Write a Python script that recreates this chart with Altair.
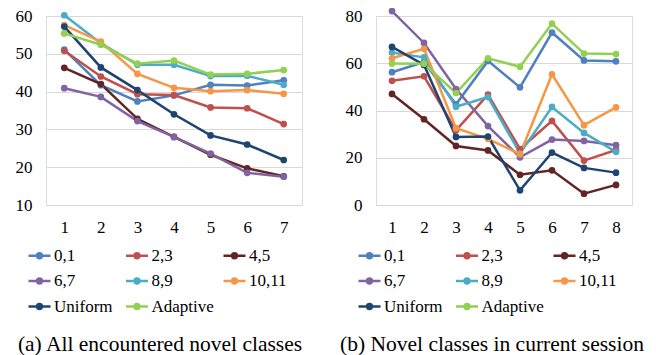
import altair as alt
import pandas as pd

series_names = ["0,1", "2,3", "4,5", "6,7", "8,9", "10,11", "Uniform", "Adaptive"]
series_colors = ["#4F81BD", "#C0504D", "#632523", "#8064A2", "#4BACC6", "#F79646", "#1F4471", "#92D050"]

sessions_a = [1, 2, 3, 4, 5, 6, 7]
a_01 = [51.1, 41.7, 37.4, 39.0, 41.8, 41.6, 43.0]
a_23 = [50.8, 44.0, 39.3, 39.1, 35.8, 35.6, 31.4]
a_45 = [46.3, 42.0, 32.8, 28.0, 23.3, 19.7, 17.6]
a_67 = [40.9, 38.6, 32.2, 28.0, 23.6, 18.5, 17.5]
a_89 = [60.2, 52.8, 47.1, 47.1, 44.1, 44.2, 41.8]
a_1011 = [57.6, 53.2, 44.7, 41.0, 40.1, 40.4, 39.4]
a_uniform = [57.2, 46.4, 40.4, 34.0, 28.4, 26.0, 21.9]
a_adaptive = [55.4, 52.4, 47.4, 48.2, 44.5, 44.7, 45.7]

sessions_b = [1, 2, 3, 4, 5, 6, 7, 8]
b_01 = [56.2, 60.5, 42.6, 61.0, 49.8, 73.0, 61.2, 60.8]
b_23 = [52.6, 54.5, 31.6, 46.7, 23.7, 35.6, 18.8, 23.3]
b_45 = [47.0, 36.3, 25.0, 23.1, 12.8, 14.7, 4.8, 8.5]
b_67 = [82.1, 68.6, 49.1, 33.4, 20.2, 27.7, 27.1, 25.3]
b_89 = [64.5, 62.5, 41.6, 45.7, 21.8, 41.5, 30.5, 22.5]
b_1011 = [62.1, 66.1, 32.5, 28.0, 21.5, 55.3, 33.8, 41.3]
b_uniform = [66.9, 59.3, 28.8, 29.0, 6.2, 22.2, 15.7, 13.7]
b_adaptive = [59.9, 59.8, 47.4, 62.1, 58.5, 76.8, 64.1, 63.9]

y_ticks_a = [10, 20, 30, 40, 50, 60]
y_ticks_b = [0, 20, 40, 60, 80]
caption_a = "(a) All encountered novel classes"
caption_b = "(b) Novel classes in current session"

FONT = "Liberation Serif"
SYM = "M-1,0H1M0.22,0A0.22,0.22,0,1,1,-0.22,0A0.22,0.22,0,1,1,0.22,0Z"
H = 189


def long_df(sessions, cols):
    rows = []
    for name, vals in zip(series_names, cols):
        for s, v in zip(sessions, vals):
            rows.append({"session": s, "value": v, "series": name})
    return pd.DataFrame(rows)


def panel(df, ticks, domain, caption, dx):
    scale = alt.Scale(domain=series_names, range=series_colors)
    leg = alt.Legend(
        title=None, orient="none", legendX=-19, legendY=H + 38, direction="horizontal",
        columns=3, gridAlign="all", columnPadding=3.5, rowPadding=4.5,
        symbolType=SYM, symbolSize=484, symbolStrokeWidth=2.5,
        labelFont=FONT, labelFontSize=17, labelColor="#000", labelOffset=2,
        labelLimit=200, padding=0,
    )
    x = alt.X("session:O", scale=alt.Scale(type="point", padding=0.5),
              axis=alt.Axis(title=None, labelAngle=0, ticks=False, domain=False, grid=False,
                            labelFont=FONT, labelFontSize=17, labelColor="#000", labelPadding=14))
    y = alt.Y("value:Q", scale=alt.Scale(domain=domain, nice=False, zero=False),
              axis=alt.Axis(title=None, values=ticks, ticks=False, domain=False, grid=True,
                            gridColor="#d9d9d9", gridWidth=1,
                            labelFont=FONT, labelFontSize=17, labelColor="#000", labelPadding=14))
    lines = alt.Chart(df).mark_line(strokeWidth=2.5).encode(
        x=x, y=y, stroke=alt.Stroke("series:N", scale=scale, legend=leg, sort=series_names),
        detail="series:N")
    pts = alt.Chart(df).mark_point(filled=True, size=45, opacity=1).encode(
        x=x, y=y, fill=alt.Fill("series:N", scale=scale, legend=leg, sort=series_names),
        detail="series:N")
    return alt.layer(lines, pts).properties(
        width=256, height=H,
        title=alt.TitleParams(caption, orient="bottom", font=FONT, fontSize=21.5, fontWeight="normal",
                              color="#000", dx=dx, offset=19),
    ).resolve_scale(stroke="shared", fill="shared")


left = panel(long_df(sessions_a, [a_01, a_23, a_45, a_67, a_89, a_1011, a_uniform, a_adaptive]),
             y_ticks_a, [10, 60], caption_a, -14)
right = panel(long_df(sessions_b, [b_01, b_23, b_45, b_67, b_89, b_1011, b_uniform, b_adaptive]),
              y_ticks_b, [0, 80], caption_b, -12)

chart = alt.hconcat(left, right, spacing=35).resolve_scale(
    stroke="independent", fill="independent", y="independent", x="independent"
).resolve_legend(stroke="independent", fill="independent").properties(
    padding={"left": 6, "top": -3, "right": 0, "bottom": 0}
).configure_view(stroke=None).configure_axis(labelFont=FONT).configure_legend(
    labelFont=FONT).configure_title(font=FONT).configure(background="white", font=FONT)

chart.save("out.html", embed_options={"renderer": "svg", "actions": False})
